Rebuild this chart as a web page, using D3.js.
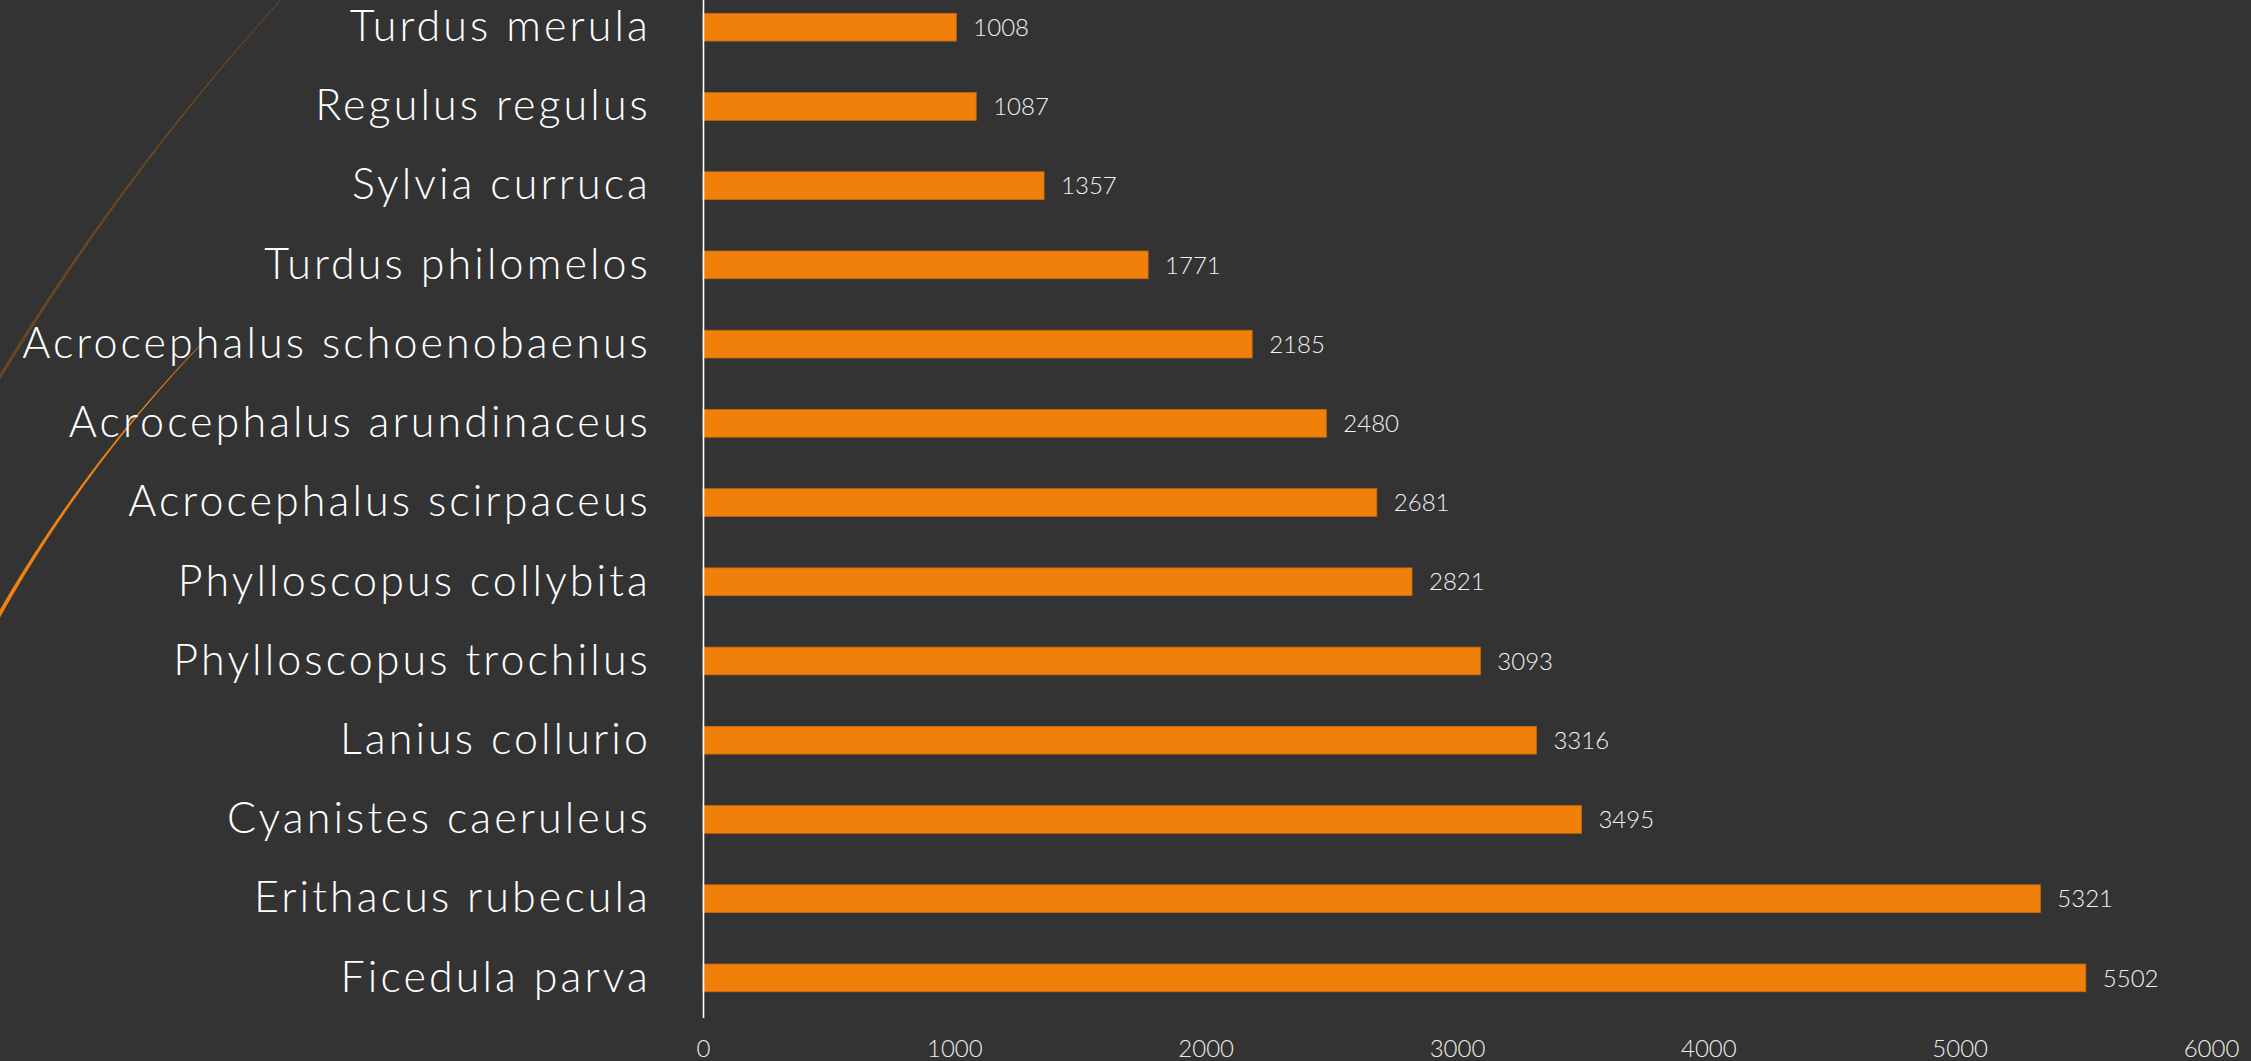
<!DOCTYPE html>
<html>
<head>
<meta charset="utf-8">
<script src="https://cdn.jsdelivr.net/npm/d3@7"></script>
<style>
  html, body { margin: 0; padding: 0; background: #333333; overflow: hidden; }
  svg { display: block; }
  .y-axis text { font-family: Lato, "Open Sans", sans-serif; font-weight: 300; fill: #ffffff; letter-spacing: 3.1px; }
  .x-axis text { font-family: Lato, "Open Sans", sans-serif; font-weight: 300; fill: #ececec; }
  .value { font-family: Lato, "Open Sans", sans-serif; font-weight: 300; fill: #f2f2f2; }
</style>
</head>
<body>
<div id="chart-area"></div>
<script>
// species, top to bottom
var species = [
    "Turdus merula",
    "Regulus regulus",
    "Sylvia curruca",
    "Turdus philomelos",
    "Acrocephalus schoenobaenus",
    "Acrocephalus arundinaceus",
    "Acrocephalus scirpaceus",
    "Phylloscopus collybita",
    "Phylloscopus trochilus",
    "Lanius collurio",
    "Cyanistes caeruleus",
    "Erithacus rubecula",
    "Ficedula parva"
];
var counts = [1008, 1087, 1357, 1771, 2185, 2480, 2681, 2821, 3093, 3316, 3495, 5321, 5502];
var xTicks = [0, 1000, 2000, 3000, 4000, 5000, 6000];

var W = 2251, H = 1061;

var svg = d3.select("#chart-area").append("svg")
    .attr("width", W)
    .attr("height", H);

svg.append("rect")
    .attr("width", W)
    .attr("height", H)
    .attr("fill", "#333333");

// decorative arcs on the left (tapered strokes)
function taperedArc(cx, cy, r, yStart, yEnd, w0, w1) {
    var left = [], right = [];
    var n = 80;
    for (var i = 0; i <= n; i++) {
        var t = i / n;
        var y = yStart + (yEnd - yStart) * t;
        var x = cx - Math.sqrt(r * r - (y - cy) * (y - cy));
        var nx = (x - cx) / r, ny = (y - cy) / r;
        var w = (w0 + (w1 - w0) * t) / 2;
        left.push([x + nx * w, y + ny * w]);
        right.push([x - nx * w, y - ny * w]);
    }
    return left.concat(right.reverse());
}

var deco = svg.append("g").attr("class", "deco");

deco.append("path")
    .attr("d", d3.line()(taperedArc(2123.5, 1665.6, 2484, -4, 390, 0.8, 3.4)) + "Z")
    .attr("fill", "#6b4622");

deco.append("path")
    .attr("d", d3.line()(taperedArc(1175.7, 1282, 1352.5, 343, 630, 0.5, 4.2)) + "Z")
    .attr("fill", "#f08010");

// scales
var x = d3.scaleLinear()
    .domain([0, 6000])
    .range([703, 2211]);

var y = d3.scaleBand()
    .domain(species)
    .range([-12.4, 1017.5])
    .paddingInner(0.65)
    .paddingOuter(0.325);

// bars
svg.selectAll(".bar")
    .data(counts)
    .enter()
    .append("rect")
    .attr("class", "bar")
    .attr("x", x(0))
    .attr("y", function(d, i) { return y(species[i]); })
    .attr("width", function(d) { return x(d) - x(0); })
    .attr("height", y.bandwidth())
    .attr("fill", "#f0800a")
    .attr("stroke", "#c8690f")
    .attr("stroke-width", 0.8);

// value labels
svg.selectAll(".value")
    .data(counts)
    .enter()
    .append("text")
    .attr("class", "value")
    .attr("x", function(d) { return x(d) + 17; })
    .attr("y", function(d, i) { return y(species[i]) + y.bandwidth() / 2; })
    .attr("dy", "0.36em")
    .style("font-size", "24px")
    .text(function(d) { return d; });

// category axis
var yAxisGroup = svg.append("g")
    .attr("class", "y-axis")
    .attr("transform", "translate(" + x(0) + ",0)")
    .call(d3.axisLeft(y).tickSize(0).tickPadding(52).tickSizeOuter(0));

yAxisGroup.select(".domain")
    .attr("stroke", "#ffffff")
    .attr("stroke-width", 1.6);

yAxisGroup.selectAll("text")
    .style("font-size", "43px");

// value axis
var xAxisGroup = svg.append("g")
    .attr("class", "x-axis")
    .attr("transform", "translate(0,1017.5)")
    .call(d3.axisBottom(x).tickValues(xTicks).tickSize(0).tickPadding(22).tickFormat(d3.format("d")));

xAxisGroup.select(".domain").remove();

xAxisGroup.selectAll("text")
    .style("font-size", "24px");
</script>
</body>
</html>
